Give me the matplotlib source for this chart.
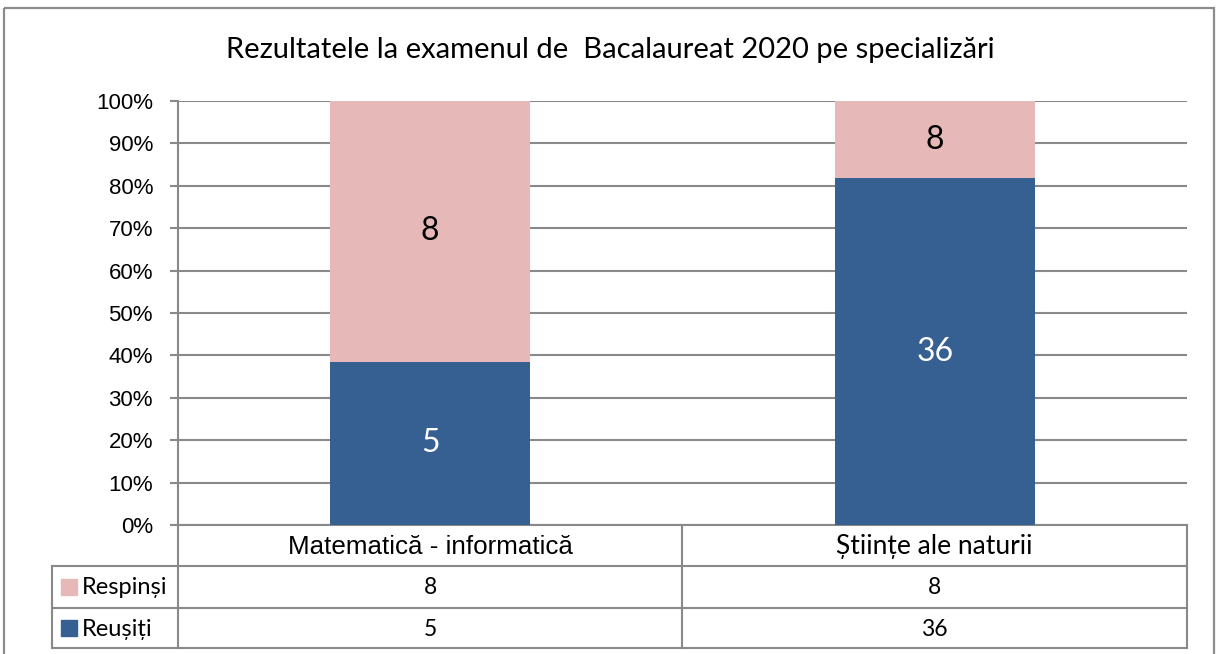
import matplotlib
matplotlib.use("Agg")
import matplotlib.pyplot as plt
from matplotlib.transforms import blended_transform_factory
from matplotlib.patches import Rectangle

# Data
categories = ["Matematică - informatică", "Științe ale naturii"]
series_names = ["Respinși", "Reușiți"]
respinsi = [8, 8]
reusiti = [5, 36]
y_ticks = [0, 10, 20, 30, 40, 50, 60, 70, 80, 90, 100]
title = "Rezultatele la examenul de  Bacalaureat 2020 pe specializări"

BLUE = "#376092"
PINK = "#E6B9B8"
GRID = "#898989"

W, H = 1216, 654
fig = plt.figure(figsize=(W / 100, H / 100), dpi=100)
fig.patch.set_facecolor("white")

# full-figure overlay in pixel coordinates (y downward)
ov = fig.add_axes([0, 0, 1, 1], zorder=0)
ov.set_xlim(0, W)
ov.set_ylim(H, 0)
ov.axis("off")

# plot area
x0, x1, ytop, ybot = 178, 1187, 101, 525
ax = fig.add_axes([x0 / W, (H - ybot) / H, (x1 - x0) / W, (ybot - ytop) / H], zorder=1)
ax.patch.set_alpha(0)

totals = [a + b for a, b in zip(respinsi, reusiti)]
pct_ok = [100 * r / t for r, t in zip(reusiti, totals)]
pct_no = [100 * r / t for r, t in zip(respinsi, totals)]
xs = list(range(len(categories)))
bw = 0.396
ax.bar(xs, pct_ok, width=bw, color=BLUE, zorder=3)
ax.bar(xs, pct_no, width=bw, bottom=pct_ok, color=PINK, zorder=3)

for x, po, pn, vo, vn in zip(xs, pct_ok, pct_no, reusiti, respinsi):
    ax.text(x, po / 2, str(vo), ha="center", va="center", color="white",
            fontsize=23, family="Lato", zorder=4)
    ax.text(x, po + pn / 2, str(vn), ha="center", va="center", color="black",
            fontsize=23, family="Lato", zorder=4)

ax.set_xlim(-0.5, len(categories) - 0.5)
ax.set_ylim(0, 100)
ax.set_yticks(y_ticks)
ax.set_yticklabels([f"{t}%" for t in y_ticks], family="Liberation Sans", fontsize=16)
ax.set_xticks([])
ax.grid(axis="y", color=GRID, lw=1.5, zorder=1)
ax.tick_params(axis="y", length=6, width=1.5, color=GRID, pad=12)
for s in ["top", "right"]:
    ax.spines[s].set_visible(False)
for s in ["left", "bottom"]:
    ax.spines[s].set_color(GRID)
    ax.spines[s].set_linewidth(1.5)

# title
ov.text(610, 50, title, ha="center", va="center", fontsize=21, family="Lato")

# outer border
ov.add_patch(Rectangle((4, 8), 1210, 660, fill=False, ec="#8c8c8c", lw=1.6))

# data table
lw = 1.5
r_head, r1, r2, r3 = 525, 566, 608, 648
tl = 52
for y in (r1, r2, r3):
    ov.plot([tl, x1], [y, y], color=GRID, lw=lw, solid_capstyle="projecting")
ov.plot([tl, tl], [r1, r3], color=GRID, lw=lw)
for x in (x0, 682, x1):
    ov.plot([x, x], [r_head, r3], color=GRID, lw=lw)

bt = blended_transform_factory(ax.transData, ov.transData)
ov.text(0, (r_head + r1) / 2 + 1, categories[0], transform=bt, ha="center", va="center",
        fontsize=18.7, family="Liberation Sans")
ov.text(1, (r_head + r1) / 2 + 1, categories[1], transform=bt, ha="center", va="center",
        fontsize=19, family="Lato")
for x, v in zip(xs, respinsi):
    ov.text(x, (r1 + r2) / 2 + 1, str(v), transform=bt, ha="center", va="center",
            fontsize=16.5, family="Lato")
for x, v in zip(xs, reusiti):
    ov.text(x, (r2 + r3) / 2 + 1, str(v), transform=bt, ha="center", va="center",
            fontsize=16.5, family="Lato")

# row headers with legend keys
for (ya, yb), name, col in zip([(r1, r2), (r2, r3)], series_names, [PINK, BLUE]):
    yc = (ya + yb) / 2
    ov.add_patch(Rectangle((61, yc - 8), 16, 16, color=col))
    ov.text(82, yc + 1, name, ha="left", va="center", fontsize=17, family="Lato")

fig.savefig("out.png", dpi=100, facecolor="white")
